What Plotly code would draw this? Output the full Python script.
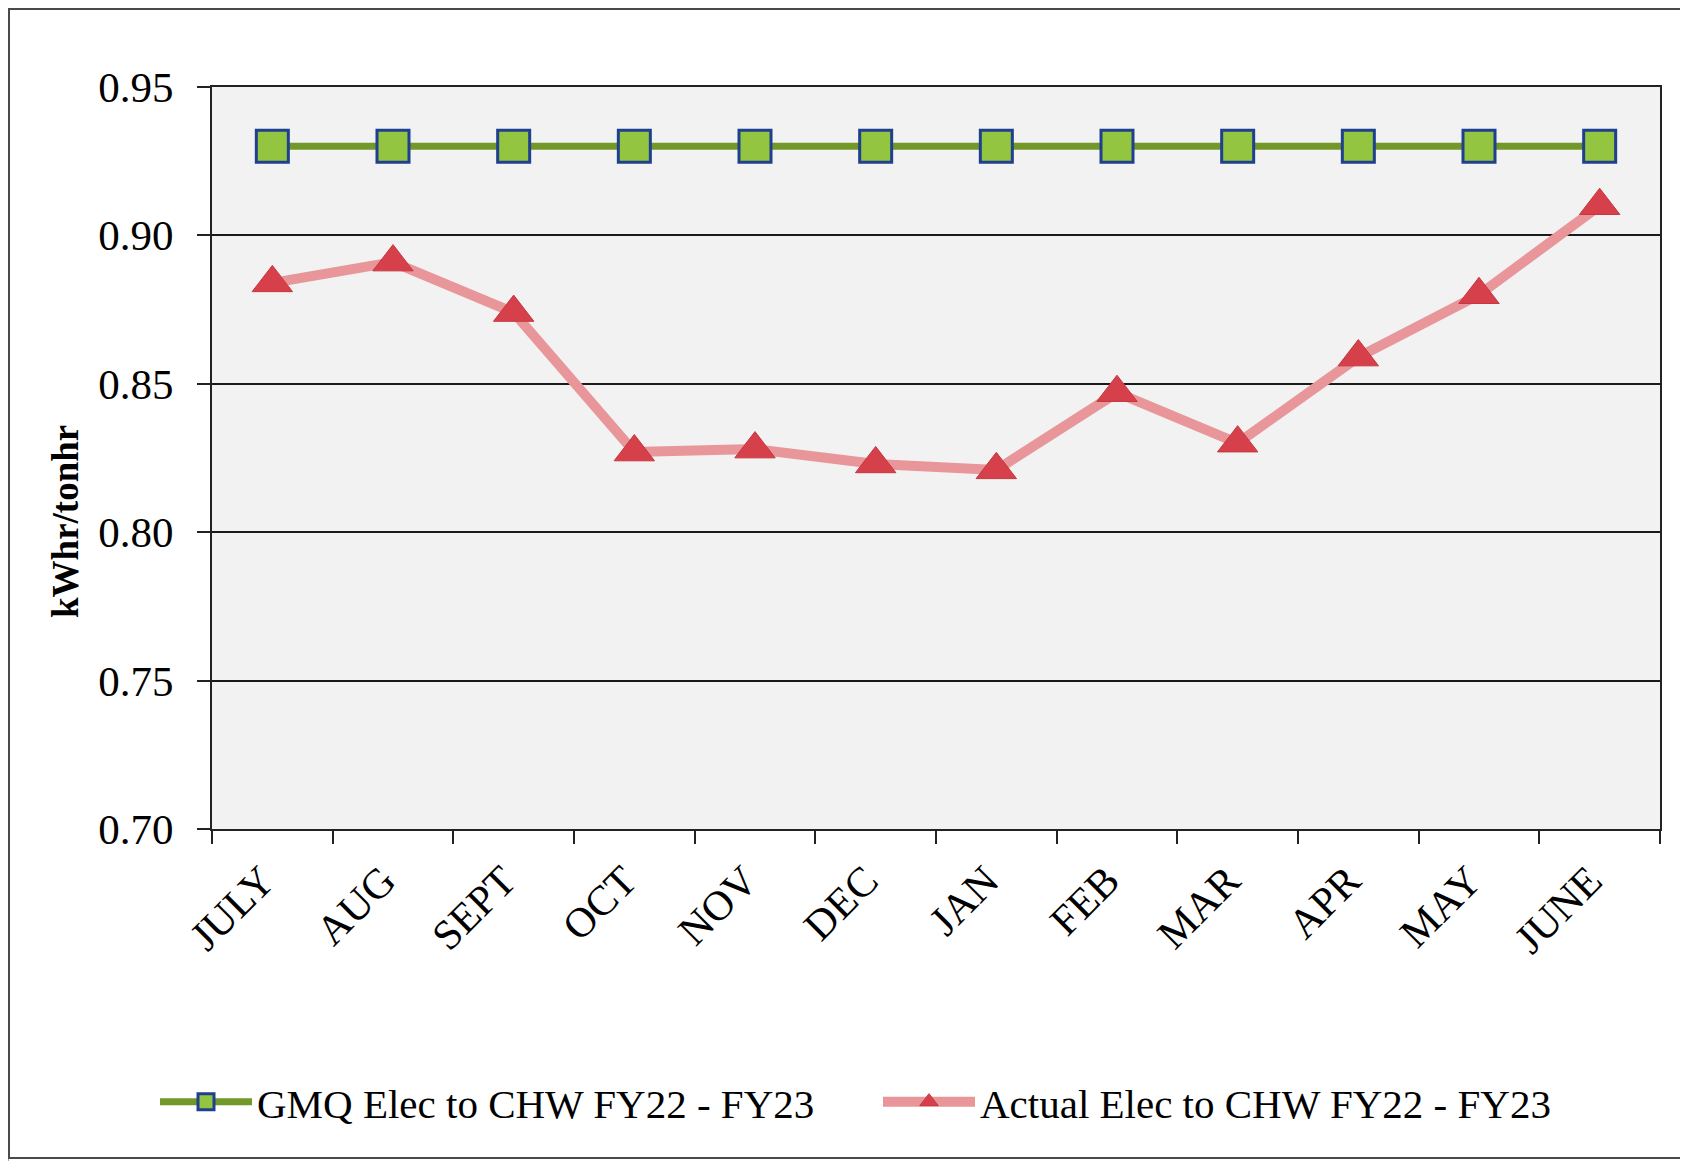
import plotly.graph_objects as go

# ---- data ----
months = ["JULY", "AUG", "SEPT", "OCT", "NOV", "DEC",
          "JAN", "FEB", "MAR", "APR", "MAY", "JUNE"]
gmq_values = [0.93, 0.93, 0.93, 0.93, 0.93, 0.93,
              0.93, 0.93, 0.93, 0.93, 0.93, 0.93]
actual_values = [0.884, 0.891, 0.874, 0.827, 0.828, 0.823,
                 0.821, 0.847, 0.830, 0.859, 0.880, 0.910]
y_tick_values = [0.70, 0.75, 0.80, 0.85, 0.90, 0.95]
series_names = ["GMQ Elec to CHW FY22 - FY23", "Actual Elec to CHW FY22 - FY23"]
y_title = "kWhr/tonhr"

# ---- layout geometry (pixels, page coordinates; page body has an 8px margin) ----
OFF = 8
W, H = 1688 - OFF, 1161 - OFF
PLOT_L, PLOT_R, PLOT_T, PLOT_B = 212, 1660, 87, 829
ML = PLOT_L - OFF
MT = PLOT_T - OFF
MR = W - (PLOT_R - OFF)
MB = H - (PLOT_B - OFF)
PW = W - ML - MR
PH = H - MT - MB


def px_x(px):
    return (px - OFF - ML) / PW


def px_y(py):
    return (H - MB - (py - OFF)) / PH


FONT = "Times New Roman, Liberation Serif, serif"

fig = go.Figure()
fig.add_trace(go.Scatter(
    x=months, y=gmq_values, name=series_names[0], mode="lines+markers",
    line=dict(color="#72982a", width=7),
    marker=dict(symbol="square", size=32, color="#93c540",
                line=dict(color="#1f3f8f", width=3)),
))
fig.add_trace(go.Scatter(
    x=months, y=actual_values, name=series_names[1], mode="lines+markers",
    line=dict(color="#e8969a", width=10),
    marker=dict(symbol="triangle-up", size=35, color="#d6404a",
                line=dict(color="#c8363f", width=1)),
))

shapes = [
    dict(type="rect", xref="paper", yref="paper", x0=px_x(0), x1=px_x(9),
         y0=px_y(1161), y1=px_y(0), fillcolor="#a8a8a8", line=dict(width=0), layer="below"),
    dict(type="rect", xref="paper", yref="paper", x0=px_x(0), x1=px_x(1688),
         y0=px_y(5), y1=px_y(0), fillcolor="#a8a8a8", line=dict(width=0), layer="below"),
    dict(type="rect", xref="paper", yref="paper", x0=px_x(1682), x1=px_x(1688),
         y0=px_y(1161), y1=px_y(0), fillcolor="#d0d0d0", line=dict(width=0), layer="below"),
    dict(type="rect", xref="paper", yref="paper", x0=px_x(9), x1=px_x(1682),
         y0=px_y(1158), y1=px_y(9), fillcolor="rgba(0,0,0,0)",
         line=dict(color="#4a4a4a", width=2), layer="below"),
]

annotations = [
    dict(text="<b>" + y_title + "</b>", xref="paper", yref="paper",
         x=px_x(65), y=px_y(522), xanchor="center", yanchor="middle",
         textangle=-90, showarrow=False,
         font=dict(family=FONT, size=37, color="black")),
]

fig.update_layout(
    width=W, height=H, autosize=False,
    margin=dict(l=ML, r=MR, t=MT, b=MB),
    paper_bgcolor="white", plot_bgcolor="#f2f2f2",
    font=dict(family=FONT, size=40, color="black"),
    showlegend=True,
    legend=dict(orientation="h", xref="container", yref="container",
                x=(155 - OFF) / W, xanchor="left",
                y=(H - (1102 - OFF)) / H, yanchor="middle",
                font=dict(family=FONT, size=41, color="black"),
                itemwidth=92, entrywidth=616, bgcolor="rgba(0,0,0,0)"),
    shapes=shapes,
    annotations=annotations,
)
fig.update_xaxes(
    type="category", range=[-0.5, 11.5], tickson="boundaries", ticks="outside",
    ticklen=13, tickwidth=2, tickcolor="#222", tickangle=-45, showgrid=False,
    showline=True, linecolor="#222", linewidth=2, mirror=True,
    ticklabelstandoff=8, ticklabelshift=-10,
    tickfont=dict(family=FONT, size=42, color="black"),
)
fig.update_yaxes(
    range=[0.70, 0.95], tickvals=y_tick_values, tickformat=".2f",
    ticks="outside", ticklen=13, tickwidth=2, tickcolor="#222",
    showgrid=True, gridcolor="#1a1a1a", gridwidth=2,
    showline=True, linecolor="#222", linewidth=2, mirror=True, zeroline=False,
    ticklabelstandoff=15,
    tickfont=dict(family=FONT, size=43, color="black"),
)

fig.write_html("out.html")
